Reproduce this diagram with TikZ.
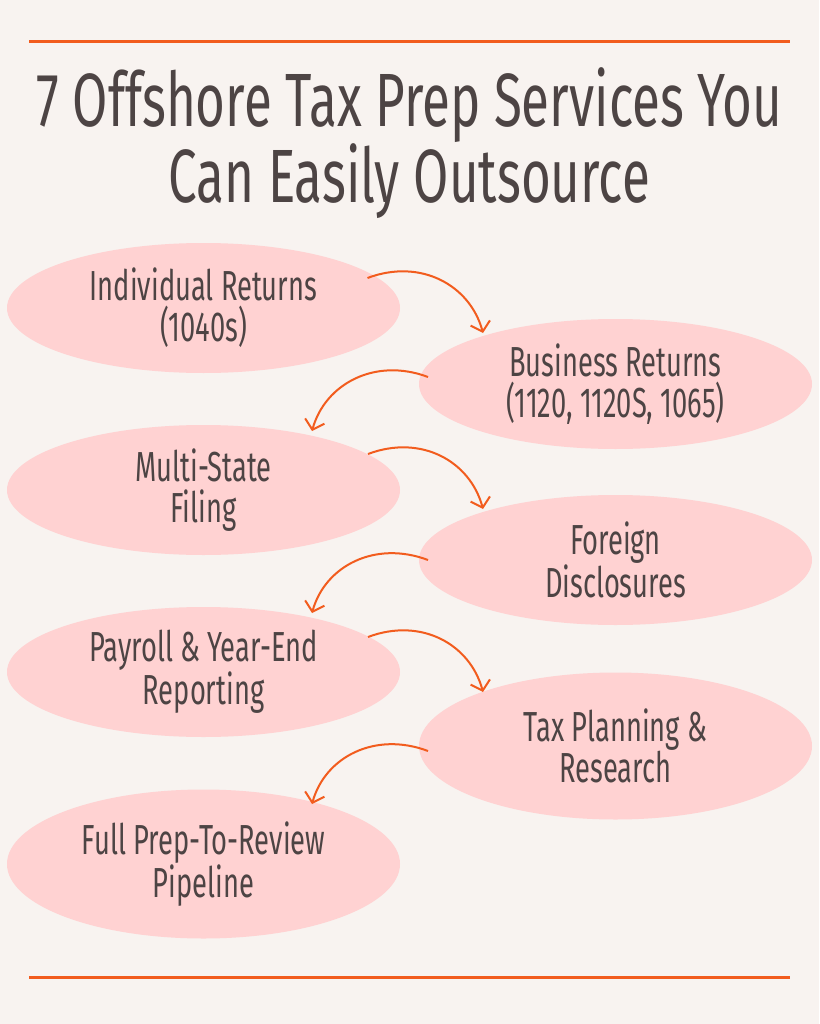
\documentclass[tikz,border=0pt]{standalone}
\usepackage{fontspec}
\setmainfont{Fira Sans}
\newfontfamily\titlefont[FakeStretch=0.677]{Fira Sans}
\newfontfamily\nodefont[FakeStretch=0.65]{Fira Sans}
\usetikzlibrary{shapes.geometric,arrows.meta,calc}
\definecolor{bg}{RGB}{248,243,240}
\definecolor{pinkfill}{RGB}{255,210,210}
\definecolor{ink}{RGB}{77,68,68}
\definecolor{accent}{RGB}{242,92,30}
\tikzset{
  svc/.style={ellipse, fill=pinkfill, text=ink, inner sep=0pt,
    minimum width=393pt, minimum height=130pt, align=center,
    font=\nodefont\fontsize{42}{41}\selectfont},
  titletext/.style={text=ink, align=center, inner sep=0pt,
    font=\titlefont\fontsize{75.5}{62}\selectfont},
  rulebar/.style={draw=accent, line width=3pt},
  flow/.style={draw=accent, line width=2pt, -{Straight Barb[length=9pt,width=20pt]}}
}
\begin{document}
\begin{tikzpicture}[x=1pt,y=-1pt]
\fill[bg] (0,0) rectangle (819,1024);
\useasboundingbox (0,0) rectangle (819,1024);
\draw[rulebar] (29,42) -- (790,42);
\draw[rulebar] (29,977) -- (790,977);
\node[titletext] (title) at (409.5,143) {7 Offshore Tax Prep Services You\\Can Easily Outsource};

\node[svc] (L1) at (203.5,308) {Individual Returns\\(1040s)};
\node[svc] (R1) at (615.5,384) {Business Returns\\(1120, 1120S, 1065)};
\node[svc] (L2) at (203.5,490) {Multi-State\\Filing};
\node[svc] (R2) at (615.5,560) {Foreign\\Disclosures};
\node[svc] (L3) at (203.5,672) {Payroll \& Year-End\\Reporting};
\node[svc, minimum height=147pt] (R3) at (615.5,746) {Tax Planning \&\\Research};
\node[svc, minimum height=149pt] (L4) at (203.5,864) {Full Prep-To-Review\\Pipeline};

\draw[flow] ($(L1)+(164,-30)$) .. controls +(53,-20) and +(-13,-48) .. ($(R1)+(-132.5,-51)$);
\draw[flow] ($(R1)+(-187.5,-7)$) .. controls +(-53,-20) and +(13,-47) .. ($(L2)+(108.5,-59)$);
\draw[flow] ($(L2)+(164.5,-36)$) .. controls +(53,-20) and +(-13,-48) .. ($(R2)+(-132.5,-51)$);
\draw[flow] ($(R2)+(-187.5,0)$) .. controls +(-53,-20) and +(13,-47) .. ($(L3)+(108.5,-59)$);
\draw[flow] ($(L3)+(164.5,-35)$) .. controls +(53,-20) and +(-13,-48) .. ($(R3)+(-132.5,-54)$);
\draw[flow] ($(R3)+(-187.5,5)$) .. controls +(-53,-20) and +(13,-47) .. ($(L4)+(108.5,-60)$);
\end{tikzpicture}
\end{document}
